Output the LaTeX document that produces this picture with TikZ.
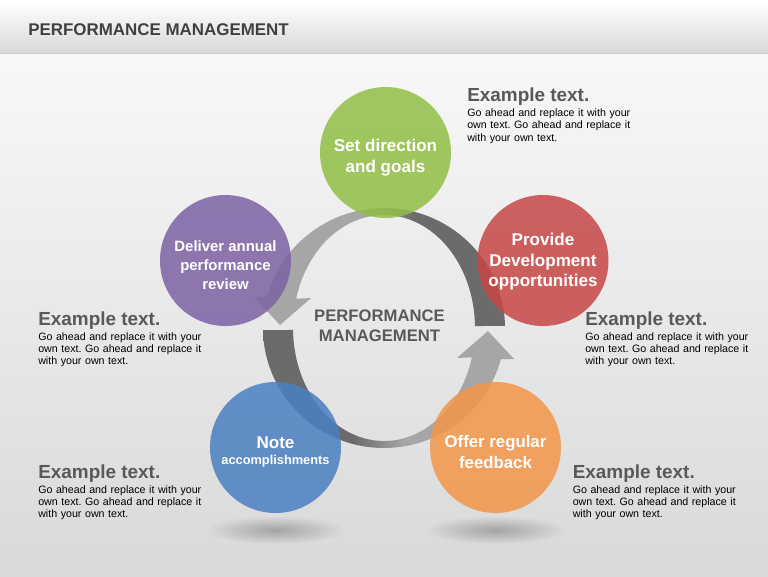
\documentclass[tikz,border=0pt]{standalone}
\usepackage{fontspec}
\setmainfont{Liberation Sans}
\usetikzlibrary{fadings}
\frenchspacing

\definecolor{titlegray}{HTML}{404040}
\definecolor{headgray}{HTML}{595959}
\definecolor{ringdark}{HTML}{6B6B6B}
\definecolor{ringlight}{HTML}{A6A6A6}
\definecolor{bandtop}{HTML}{FDFDFD}
\definecolor{bandbottom}{HTML}{D8D8D8}
\definecolor{bandline}{HTML}{CFCFCF}
\definecolor{bgtop}{HTML}{F8F8F8}
\definecolor{bgbottom}{HTML}{D9D9D9}
\definecolor{cgreen}{RGB}{145,190,70}
\definecolor{cred}{RGB}{199,70,70}
\definecolor{cpurple}{RGB}{125,98,164}
\definecolor{cblue}{RGB}{75,127,193}
\definecolor{corange}{RGB}{243,150,73}

\pgfdeclarehorizontalshading{ringtop}{100bp}{color(0bp)=(ringlight); color(47bp)=(ringlight); color(57bp)=(ringdark); color(100bp)=(ringdark)}
\pgfdeclarehorizontalshading{ringbottom}{100bp}{color(0bp)=(ringdark); color(43bp)=(ringdark); color(53bp)=(ringlight); color(100bp)=(ringlight)}
\tikzfading[name=softshadow, inner color=transparent!30, outer color=transparent!100]

\tikzset{
  bubble/.style={circle, minimum size=98.25pt, inner sep=0pt, fill opacity=0.85},
  bubbletext/.style={inner sep=0pt, text=white, align=center},
  headtext/.style={anchor=base west, inner sep=0pt, text=headgray,
    font=\fontsize{14.2}{17}\selectfont\bfseries},
  bodytext/.style={anchor=base west, inner sep=0pt, text width=140pt, align=left,
    font=\fontsize{8}{9.2}\selectfont},
}

\begin{document}
\begin{tikzpicture}[x=0.75pt, y=-0.75pt]
  \useasboundingbox (0,0) rectangle (768,576);
  \shade[top color=bgtop, bottom color=bgbottom] (0,53) rectangle (768,576);
  \shade[top color=bandtop, bottom color=bandbottom] (0,4) rectangle (768,53);
  \draw[bandline] (0,53) -- (768,53);

  \node[anchor=west, inner sep=0pt, text=titlegray, font=\fontsize{12.7}{15}\selectfont\bfseries] (title) at (28,30) {PERFORMANCE MANAGEMENT};

  \fill[black!45, path fading=softshadow] (275.5,530) ellipse [x radius=70, y radius=14];
  \fill[black!45, path fading=softshadow] (495.5,530) ellipse [x radius=70, y radius=14];

  \coordinate (ring) at (384,328);
  \begin{scope}[shift={(ring)}]
    \shade[shading=ringtop] (-1:121 and 120) arc[start angle=-1, end angle=-165, x radius=121, y radius=120]
      -- (-130,-31) -- (-104,-3) -- (-73,-30)
      -- (-165:91 and 113) arc[start angle=-165, end angle=-1, x radius=91, y radius=113] -- cycle;
    \shade[shading=ringbottom] (179:121 and 120) arc[start angle=179, end angle=15, x radius=121, y radius=120]
      -- (130,31) -- (104,3) -- (73,30)
      -- (15:91 and 113) arc[start angle=15, end angle=179, x radius=91, y radius=113] -- cycle;
  \end{scope}

  \node[font=\fontsize{12.5}{15}\selectfont\bfseries, text=headgray, align=center] (hub) at (379.5,326) {PERFORMANCE\\MANAGEMENT};

  \node[bubble, fill=cgreen] (direction) at (385.5,152.5) {};
  \node[bubble, fill=cred] (develop) at (543,260.5) {};
  \node[bubble, fill=cpurple] (review) at (225.5,260.5) {};
  \node[bubble, fill=cblue] (note) at (275.5,447.5) {};
  \node[bubble, fill=corange] (feedback) at (495.5,447.5) {};

  \node[bubbletext, font=\fontsize{12.8}{15.75}\selectfont\bfseries] (directiontxt) at ([yshift=-4pt]direction) {Set direction\\and goals};
  \node[bubbletext, font=\fontsize{12.8}{15.4}\selectfont\bfseries] (developtxt) at ([yshift=-1pt]develop) {Provide\\Development\\opportunities};
  \node[bubbletext, font=\fontsize{11.2}{14.3}\selectfont\bfseries] (reviewtxt) at ([yshift=-3.5pt]review) {Deliver annual\\performance\\review};
  \node[bubbletext, font=\fontsize{12.8}{12}\selectfont\bfseries] (notetxt) at ([yshift=-3pt]note) {Note\\{\fontsize{9.6}{12}\selectfont accomplishments}};
  \node[bubbletext, font=\fontsize{12.6}{15.75}\selectfont\bfseries] (feedbacktxt) at ([yshift=-3pt]feedback) {Offer regular\\feedback};

  \node[headtext] (tr) at (467,101) {Example text.};
  \node[bodytext] (trbody) at (467,116.5) {Go ahead and replace it with your\\own text. Go ahead and replace it\\with your own text.};
  \node[headtext] (rm) at (585,325) {Example text.};
  \node[bodytext] (rmbody) at (585,340) {Go ahead and replace it with your\\own text. Go ahead and replace it\\with your own text.};
  \node[headtext] (lm) at (38,325) {Example text.};
  \node[bodytext] (lmbody) at (38,340) {Go ahead and replace it with your\\own text. Go ahead and replace it\\with your own text.};
  \node[headtext] (bl) at (38,478.5) {Example text.};
  \node[bodytext] (blbody) at (38,493) {Go ahead and replace it with your\\own text. Go ahead and replace it\\with your own text.};
  \node[headtext] (br) at (572.5,478.5) {Example text.};
  \node[bodytext] (brbody) at (572.5,493) {Go ahead and replace it with your\\own text. Go ahead and replace it\\with your own text.};
\end{tikzpicture}
\end{document}
